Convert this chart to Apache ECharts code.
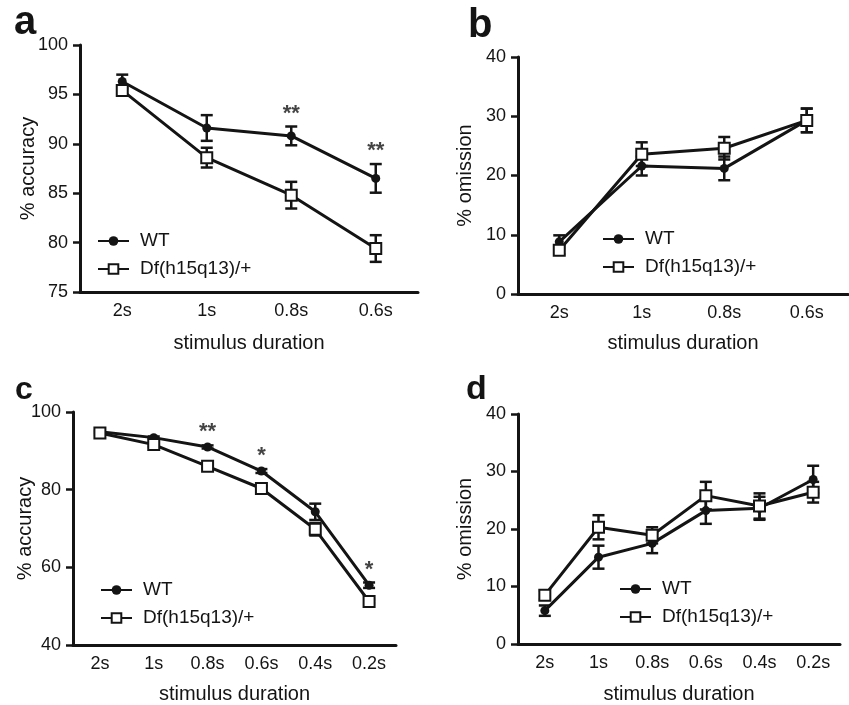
<!DOCTYPE html>
<html><head><meta charset="utf-8">
<script src="https://cdn.jsdelivr.net/npm/echarts@6/dist/echarts.min.js"></script>
<style>html,body{margin:0;padding:0;background:#fff}#c{width:849px;height:705px}</style>
</head><body><div id="c"></div>
<script>
// ---- data ----
const catsAB = ['2s', '1s', '0.8s', '0.6s'];
const catsCD = ['2s', '1s', '0.8s', '0.6s', '0.4s', '0.2s'];
const seriesNames = ['WT', 'Df(h15q13)/+'];

const aWT = [96.3, 91.6, 90.8, 86.5];
const aWTerr = [0.7, 1.3, 0.95, 1.45];
const aDf = [95.4, 88.6, 84.8, 79.4];
const aDferr = [0.45, 1.0, 1.35, 1.35];
const aStars = ['', '', '**', '**'];

const bWT = [8.8, 21.6, 21.2, 29.3];
const bWTerr = [1.1, 1.6, 2.0, 2.0];
const bDf = [7.4, 23.6, 24.6, 29.3];
const bDferr = [0.7, 2.0, 1.9, 2.0];

const cWT = [94.9, 93.4, 91.0, 84.8, 74.3, 55.4];
const cWTerr = [0.3, 0.3, 0.4, 0.5, 2.1, 0.7];
const cDf = [94.6, 91.6, 86.0, 80.3, 69.8, 51.2];
const cDferr = [0.4, 0.5, 0.5, 0.6, 1.6, 0.5];
const cStars = ['', '', '**', '*', '', '*'];

const dWT = [5.8, 15.1, 17.5, 23.2, 23.6, 28.6];
const dWTerr = [0.9, 2.0, 1.7, 2.3, 2.0, 2.4];
const dDf = [8.5, 20.3, 18.9, 25.8, 24.0, 26.4];
const dDferr = [0.8, 2.1, 1.4, 2.4, 2.2, 1.8];

const yTitles = ['% accuracy', '% omission', '% accuracy', '% omission'];
const xTitle = 'stimulus duration';
const panelLabels = ['a', 'b', 'c', 'd'];

// ---- chart ----
const FONT = '"Liberation Sans", Arial, Helvetica, sans-serif';
const INK = '#141414';
const chart = echarts.init(document.getElementById('c'), null, {renderer: 'canvas'});

const grids = [
  {left: 80, top: 45, width: 338, height: 247},
  {left: 518, top: 57, width: 330, height: 237},
  {left: 73, top: 412, width: 323, height: 233},
  {left: 518, top: 414, width: 322, height: 232}
];
const yRanges = [[75, 100, 5], [0, 40, 10], [40, 100, 20], [0, 40, 10]];
const yGaps = [42, 43, 38, 43];
const xGaps = [41, 39, 39, 40];

function xAxis(i, cats) {
  return {
    type: 'category', gridIndex: i, data: cats, boundaryGap: true,
    axisLine: {lineStyle: {color: INK, width: 3}},
    axisTick: {alignWithLabel: true, length: 7, lineStyle: {color: INK, width: 2.5}},
    axisLabel: {color: INK, fontSize: 18, fontFamily: FONT, margin: 10},
    name: xTitle, nameLocation: 'middle', nameGap: xGaps[i], nameMoveOverlap: false,
    nameTextStyle: {color: INK, fontSize: 20, fontFamily: FONT},
    splitLine: {show: false}
  };
}
function yAxis(i) {
  const r = yRanges[i];
  return {
    type: 'value', gridIndex: i, min: r[0], max: r[1], interval: r[2],
    axisLine: {show: true, lineStyle: {color: INK, width: 3}},
    axisTick: {show: true, length: 7, lineStyle: {color: INK, width: 2.5}},
    axisLabel: {color: INK, fontSize: 18, fontFamily: FONT, margin: 12},
    splitLine: {show: false},
    name: yTitles[i], nameLocation: 'middle', nameGap: yGaps[i], nameMoveOverlap: false,
    nameTextStyle: {color: INK, fontSize: 20, fontFamily: FONT}
  };
}
function errSeries(i, means, errs) {
  return {
    type: 'custom', xAxisIndex: i, yAxisIndex: i, z: 1, silent: true,
    data: means.map((m, k) => [k, m - errs[k], m + errs[k]]),
    encode: {x: 0, y: [1, 2]},
    renderItem: function (params, api) {
      const p1 = api.coord([api.value(0), api.value(1)]);
      const p2 = api.coord([api.value(0), api.value(2)]);
      const x = p1[0], w = 6;
      const st = {stroke: INK, lineWidth: 2.5};
      return {type: 'group', children: [
        {type: 'line', shape: {x1: x, y1: p1[1], x2: x, y2: p2[1]}, style: st},
        {type: 'line', shape: {x1: x - w, y1: p2[1], x2: x + w, y2: p2[1]}, style: st},
        {type: 'line', shape: {x1: x - w, y1: p1[1], x2: x + w, y2: p1[1]}, style: st}
      ]};
    }
  };
}
function wtSeries(i, vals) {
  return {
    type: 'line', name: seriesNames[0], xAxisIndex: i, yAxisIndex: i, z: 3, data: vals,
    symbol: 'circle', symbolSize: 9, showSymbol: true,
    itemStyle: {color: INK},
    lineStyle: {color: INK, width: 3}, animation: false
  };
}
function dfSeries(i, vals) {
  return {
    type: 'line', name: seriesNames[1], xAxisIndex: i, yAxisIndex: i, z: 4, data: vals,
    symbol: 'rect', symbolSize: 11, showSymbol: true,
    itemStyle: {color: '#fff', borderColor: INK, borderWidth: 2},
    lineStyle: {color: INK, width: 3}, animation: false
  };
}
function starSeries(i, means, errs, stars) {
  return {
    type: 'scatter', xAxisIndex: i, yAxisIndex: i, z: 5, silent: true, symbolSize: 0,
    data: stars.map((s, k) => s ? {value: [k, means[k] + errs[k]], name: s} : null).filter(Boolean),
    label: {show: true, position: 'top', distance: 2, formatter: p => p.name,
      color: INK, fontSize: 22, fontWeight: 'bold', fontFamily: FONT}
  };
}
const legendPos = [[97, 231], [602, 229], [100, 580], [619, 579]];
const legends = legendPos.map(p => ({
  data: seriesNames, orient: 'vertical', left: p[0], top: p[1], itemGap: 8, padding: 0,
  itemWidth: 31, itemHeight: 12, selectedMode: false,
  textStyle: {color: INK, fontSize: 19, fontFamily: FONT, lineHeight: 20, padding: [0, 0, 0, 6]}
}));
const labelPos = [[14, 3, 40], [468, 6, 40], [15, 374, 32], [466, 373, 34]];
const graphics = labelPos.map((p, i) => ({
  type: 'text', left: p[0], top: p[1],
  style: {text: panelLabels[i], font: 'bold ' + p[2] + 'px ' + FONT, fill: INK}
}));

const meansWT = [aWT, bWT, cWT, dWT], errsWT = [aWTerr, bWTerr, cWTerr, dWTerr];
const meansDf = [aDf, bDf, cDf, dDf], errsDf = [aDferr, bDferr, cDferr, dDferr];
const series = [];
for (let i = 0; i < 4; i++) {
  series.push(errSeries(i, meansWT[i], errsWT[i]));
  series.push(errSeries(i, meansDf[i], errsDf[i]));
  series.push(wtSeries(i, meansWT[i]));
  series.push(dfSeries(i, meansDf[i]));
}
series.push(starSeries(0, aWT, aWTerr, aStars));
series.push(starSeries(2, cWT, cWTerr, cStars));

chart.setOption({
  backgroundColor: '#fff',
  animation: false,
  grid: grids,
  xAxis: [xAxis(0, catsAB), xAxis(1, catsAB), xAxis(2, catsCD), xAxis(3, catsCD)],
  yAxis: [yAxis(0), yAxis(1), yAxis(2), yAxis(3)],
  legend: legends,
  graphic: graphics,
  series: series
});
</script></body></html>
